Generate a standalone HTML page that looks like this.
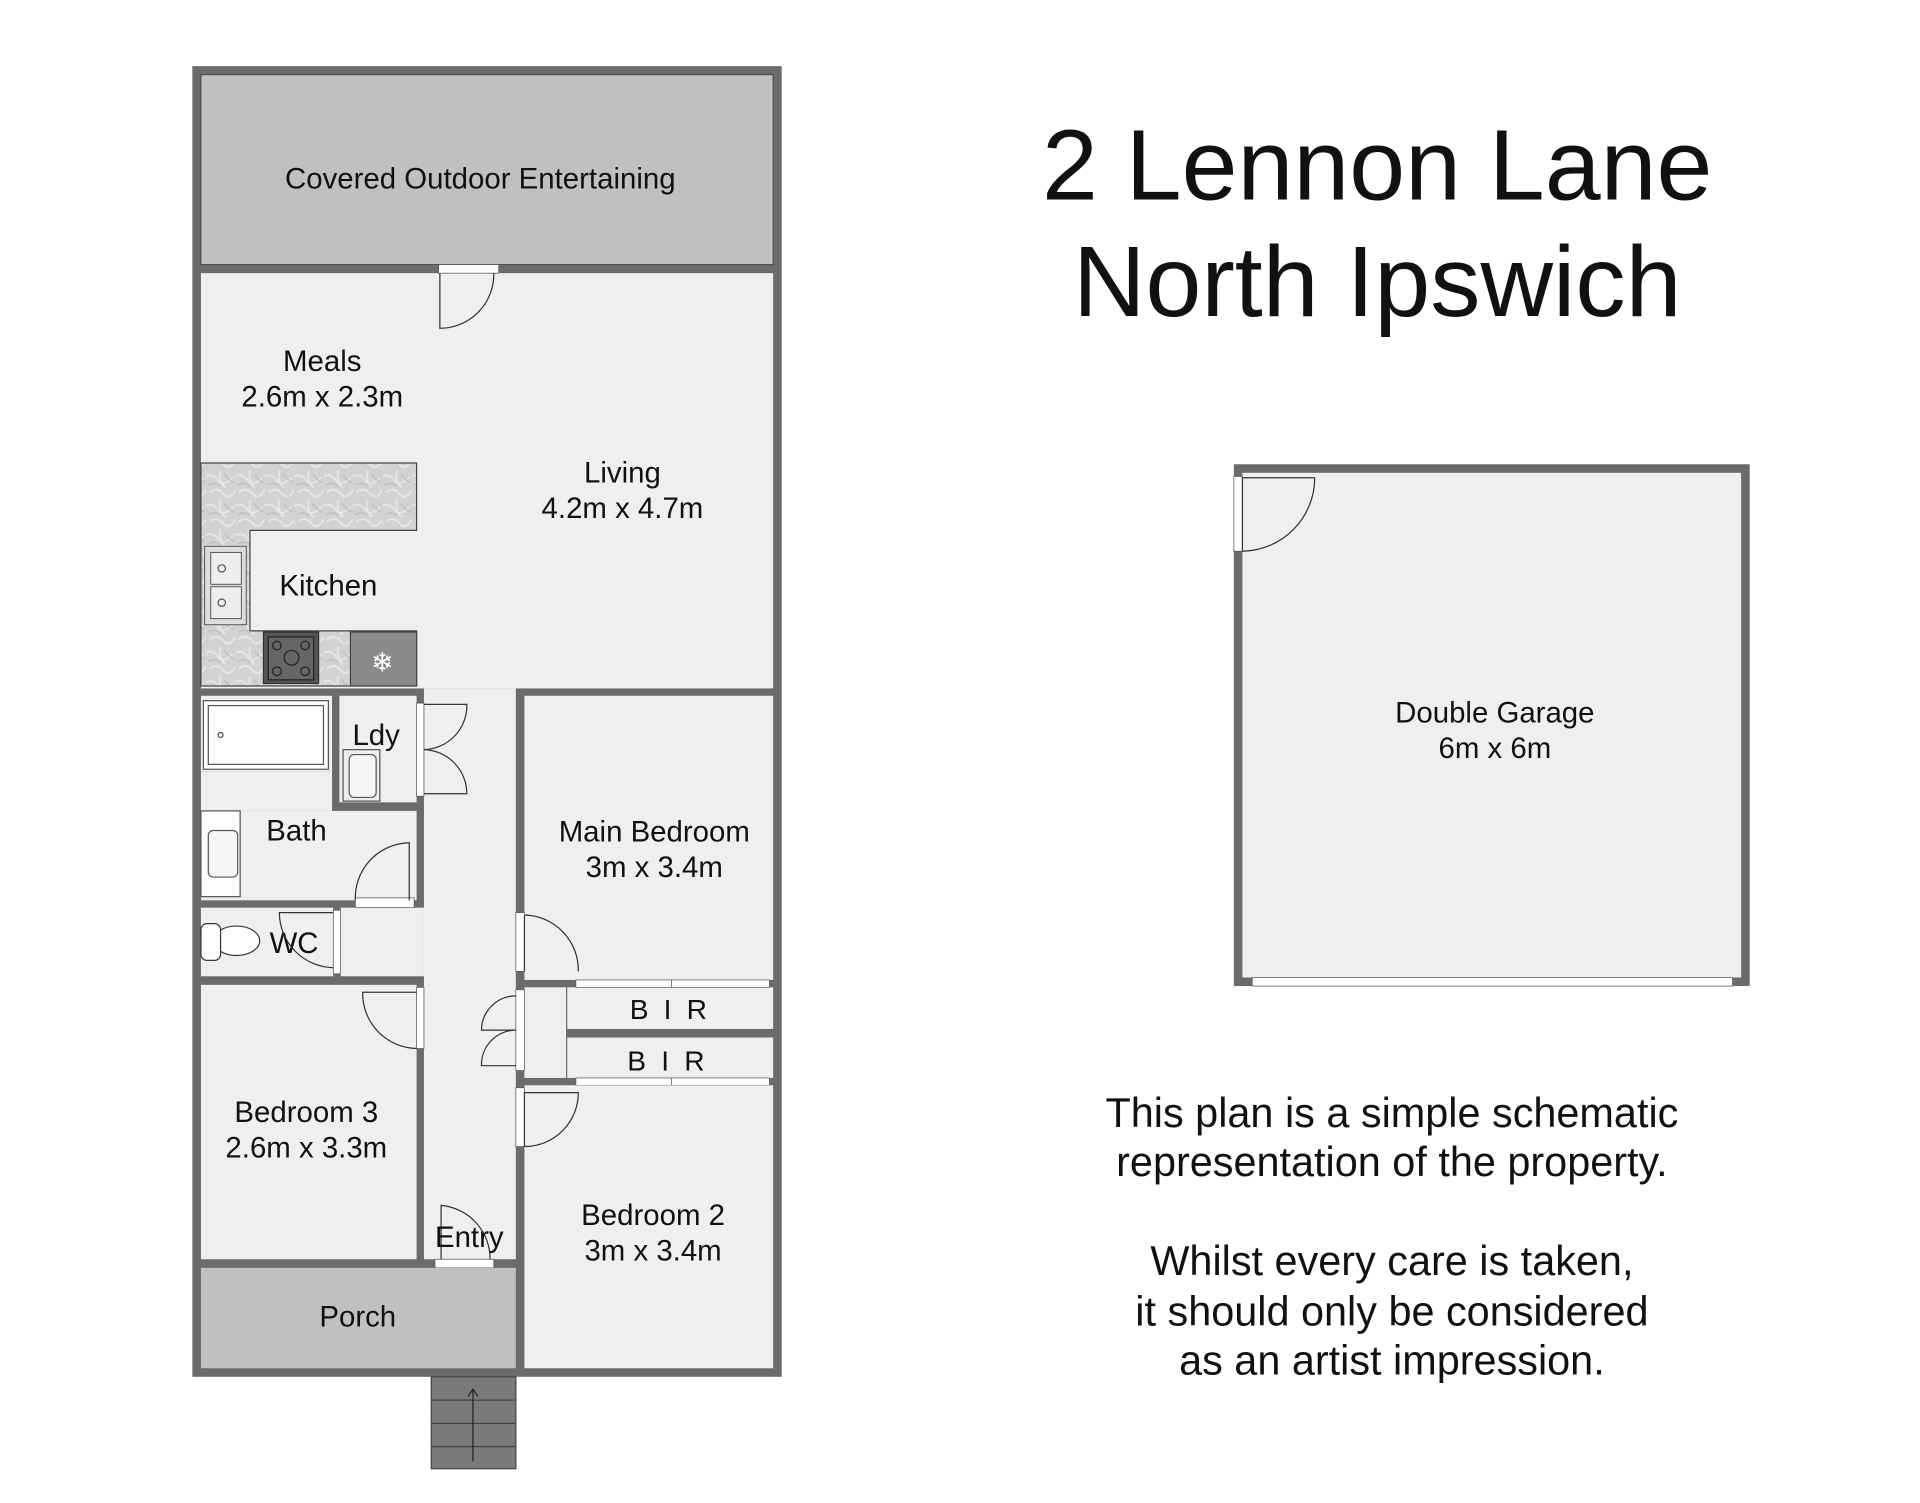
<!DOCTYPE html>
<html><head><meta charset="utf-8"><style>
html,body{margin:0;padding:0;background:#fff;}
svg{display:block;}
text{font-family:"Liberation Sans",Arial,sans-serif;fill:#111;}
</style></head><body>
<svg width="1920" height="1503" viewBox="0 0 1567 1227" preserveAspectRatio="none" xmlns="http://www.w3.org/2000/svg">
<defs>
<pattern id="marble" width="24" height="24" patternUnits="userSpaceOnUse">
<rect width="24" height="24" fill="#d2d2d2"/>
<path d="M0 5 Q6 2 10 8 T22 6 M3 18 Q9 13 14 19 T24 16 M12 0 Q10 10 16 14" stroke="#e6e6e6" stroke-width="1.5" fill="none"/>
<path d="M2 12 Q8 9 12 13 M15 3 Q19 8 23 10" stroke="#b8b8b8" stroke-width="0.8" fill="none"/>
</pattern>
</defs>
<rect x="157" y="54" width="481" height="1070" fill="#6b6b6b"/>
<rect x="164" y="61" width="467" height="155" fill="#c0c0c0" stroke="#444" stroke-width="0.8"/>
<text x="392" y="154" font-size="24" text-anchor="middle">Covered Outdoor Entertaining</text>
<rect x="164" y="223" width="467" height="339" fill="#efefef"/>
<rect x="358" y="216" width="49" height="7" fill="#fff" stroke="#555" stroke-width="0.6"/>
<path d="M359 223 V268 A44 44 0 0 0 403 223" fill="none" stroke="#333" stroke-width="1"/>
<path d="M164 378 H340 V433 H204 V515 H340 V560 H164 Z" fill="url(#marble)" stroke="#444" stroke-width="1"/>
<rect x="167" y="446" width="34" height="64" fill="#ddd" stroke="#555" stroke-width="0.8"/>
<rect x="172" y="451" width="25" height="26" fill="#eee" stroke="#555" stroke-width="0.8"/>
<rect x="172" y="479" width="25" height="26" fill="#eee" stroke="#555" stroke-width="0.8"/>
<circle cx="181" cy="464" r="3" fill="none" stroke="#555"/><circle cx="181" cy="492" r="3" fill="none" stroke="#555"/>
<rect x="215" y="516" width="45" height="42" fill="#555" stroke="#333"/>
<rect x="219" y="520" width="37" height="35" fill="#666" stroke="#222"/>
<circle cx="226" cy="527" r="3.5" fill="none" stroke="#222"/><circle cx="249" cy="527" r="3.5" fill="none" stroke="#222"/>
<circle cx="226" cy="548" r="3.5" fill="none" stroke="#222"/><circle cx="249" cy="548" r="3.5" fill="none" stroke="#222"/>
<circle cx="238" cy="537" r="6" fill="none" stroke="#222"/>
<rect x="286" y="516" width="54" height="44" fill="#8a8a8a" stroke="#444"/>
<text x="312" y="548" font-size="22" text-anchor="middle" style="fill:#fff">❄</text>
<text x="263" y="303" font-size="24" text-anchor="middle">Meals</text>
<text x="263" y="332" font-size="24" text-anchor="middle">2.6m x 2.3m</text>
<text x="508" y="394" font-size="24" text-anchor="middle">Living</text>
<text x="508" y="423" font-size="24" text-anchor="middle">4.2m x 4.7m</text>
<text x="268" y="486" font-size="24" text-anchor="middle">Kitchen</text>
<rect x="346" y="562" width="75" height="466" fill="#efefef"/>
<rect x="278" y="741" width="68" height="56" fill="#efefef"/>
<rect x="428" y="568" width="203" height="232" fill="#efefef"/>
<text x="534" y="687" font-size="24" text-anchor="middle">Main Bedroom</text>
<text x="534" y="716" font-size="24" text-anchor="middle">3m x 3.4m</text>
<rect x="421" y="745" width="7" height="48" fill="#fff" stroke="#555" stroke-width="0.6"/>
<path d="M428 747 A45 45 0 0 1 472 793" fill="none" stroke="#333"/>
<path d="M428 748 V793" stroke="#333"/>
<rect x="463" y="806" width="168" height="34" fill="#efefef"/>
<rect x="463" y="847" width="168" height="33" fill="#efefef"/>
<rect x="428" y="806" width="34" height="74" fill="#efefef"/>
<rect x="470" y="800" width="158" height="6" fill="#fff" stroke="#555" stroke-width="0.6"/>
<rect x="470" y="880" width="158" height="6" fill="#fff" stroke="#555" stroke-width="0.6"/>
<line x1="548" y1="800" x2="548" y2="806" stroke="#555" stroke-width="0.6"/>
<line x1="548" y1="880" x2="548" y2="886" stroke="#555" stroke-width="0.6"/>
<text x="547" y="832" font-size="23" text-anchor="middle" letter-spacing="3">B I R</text>
<text x="545" y="874" font-size="23" text-anchor="middle" letter-spacing="3">B I R</text>
<rect x="421" y="808" width="7" height="66" fill="#fff" stroke="#555" stroke-width="0.6"/>
<path d="M421 813 A28 28 0 0 0 393 841 H421 M421 841 A28 28 0 0 0 393 870 H421" fill="none" stroke="#333"/>
<rect x="428" y="886" width="203" height="231" fill="#efefef"/>
<rect x="421" y="888" width="7" height="48" fill="#fff" stroke="#555" stroke-width="0.6"/>
<path d="M428 936 A44 44 0 0 0 472 892 H428 V936" fill="none" stroke="#333"/>
<text x="533" y="1000" font-size="24" text-anchor="middle">Bedroom 2</text>
<text x="533" y="1029" font-size="24" text-anchor="middle">3m x 3.4m</text>
<rect x="164" y="568" width="107" height="62" fill="#efefef"/>
<rect x="166" y="572" width="102" height="56" fill="#fff" stroke="#555"/>
<rect x="170" y="576" width="94" height="48" fill="#fff" stroke="#555"/>
<circle cx="180" cy="600" r="2" fill="none" stroke="#444"/>
<rect x="277" y="568" width="63" height="87" fill="#efefef"/>
<rect x="280" y="612" width="30" height="42" fill="#eee" stroke="#555"/>
<rect x="285" y="616" width="22" height="35" rx="4" fill="#f6f6f6" stroke="#555"/>
<text x="307" y="608" font-size="24" text-anchor="middle">Ldy</text>
<rect x="340" y="574" width="6" height="76" fill="#fff" stroke="#555" stroke-width="0.6"/>
<path d="M346 575 H381 A36 36 0 0 1 346 612 M346 612 A36 36 0 0 1 381 648 H346" fill="none" stroke="#333"/>
<rect x="164" y="662" width="176" height="73" fill="#efefef"/>
<rect x="164" y="630" width="107" height="32" fill="#efefef"/>
<rect x="164" y="662" width="32" height="70" fill="#fff" stroke="#555"/>
<rect x="170" y="678" width="24" height="38" rx="4" fill="#f6f6f6" stroke="#555"/>
<text x="242" y="686" font-size="24" text-anchor="middle">Bath</text>
<rect x="290" y="733" width="48" height="8" fill="#fff" stroke="#555" stroke-width="0.6"/>
<path d="M334 735 V688 A45 45 0 0 0 290 735" fill="none" stroke="#333"/>
<rect x="164" y="741" width="108" height="56" fill="#efefef"/>
<ellipse cx="193" cy="768" rx="19" ry="12" fill="#fff" stroke="#333"/>
<rect x="164" y="754" width="16" height="30" rx="5" fill="#fff" stroke="#333"/>
<text x="240" y="778" font-size="24" text-anchor="middle">WC</text>
<rect x="272" y="743" width="6" height="52" fill="#fff" stroke="#555" stroke-width="0.6"/>
<path d="M272 745 H228 A45 45 0 0 0 272 790" fill="none" stroke="#333"/>
<rect x="164" y="804" width="176" height="224" fill="#efefef"/>
<rect x="340" y="806" width="6" height="50" fill="#fff" stroke="#555" stroke-width="0.6"/>
<path d="M340 856 A45 45 0 0 1 296 810 H340" fill="none" stroke="#333"/>
<text x="250" y="916" font-size="24" text-anchor="middle">Bedroom 3</text>
<text x="250" y="945" font-size="24" text-anchor="middle">2.6m x 3.3m</text>
<rect x="355" y="1028" width="48" height="7" fill="#fff" stroke="#555" stroke-width="0.6"/>
<path d="M360 1028 V984 A44 44 0 0 1 400 1028" fill="none" stroke="#333"/>
<text x="383" y="1018" font-size="24" text-anchor="middle">Entry</text>
<rect x="164" y="1035" width="257" height="82" fill="#c0c0c0"/>
<text x="292" y="1083" font-size="24" text-anchor="middle">Porch</text>
<rect x="352" y="1124" width="69" height="75" fill="#7a7a7a" stroke="#444"/>
<line x1="352" y1="1143" x2="421" y2="1143" stroke="#444"/>
<line x1="352" y1="1162" x2="421" y2="1162" stroke="#444"/>
<line x1="352" y1="1181" x2="421" y2="1181" stroke="#444"/>
<path d="M386 1193 V1134 M382 1140 L386 1134 L390 1140" stroke="#222" fill="none"/>
<rect x="1007" y="379" width="421" height="426" fill="#6b6b6b"/>
<rect x="1014" y="386" width="407" height="412" fill="#efefef"/>
<rect x="1022" y="798" width="392" height="7" fill="#fff" stroke="#555" stroke-width="0.6"/>
<rect x="1007" y="389" width="7" height="61" fill="#fff" stroke="#555" stroke-width="0.6"/>
<path d="M1014 450 V390 H1073 M1014 450 A60 60 0 0 0 1073 390" fill="none" stroke="#333"/>
<text x="1220" y="590" font-size="24" text-anchor="middle">Double Garage</text>
<text x="1220" y="619" font-size="24" text-anchor="middle">6m x 6m</text>
<text x="1124" y="163" font-size="82" text-anchor="middle">2 Lennon Lane</text>
<text x="1124" y="258" font-size="82" text-anchor="middle">North Ipswich</text>
<g font-size="33.8" text-anchor="middle">
<text x="1136" y="920">This plan is a simple schematic</text>
<text x="1136" y="960">representation of the property.</text>
<text x="1136" y="1041">Whilst every care is taken,</text>
<text x="1136" y="1082">it should only be considered</text>
<text x="1136" y="1122">as an artist impression.</text>
</g>
</svg>
</body></html>
